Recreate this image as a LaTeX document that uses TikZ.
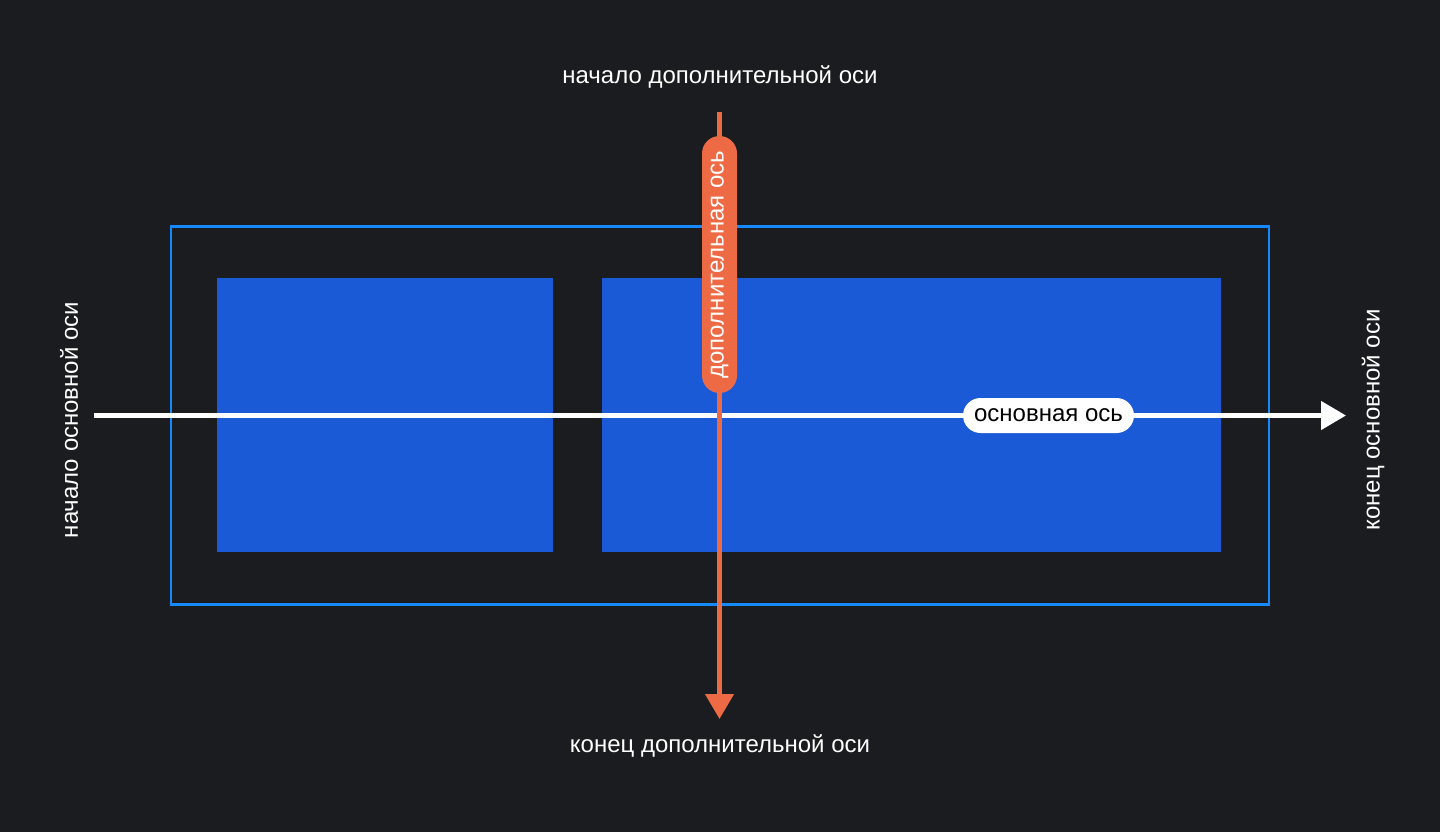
\documentclass[tikz,border=0pt]{standalone}
\usepackage{fontspec}
\setmainfont{Liberation Sans}
\usetikzlibrary{arrows.meta}
\definecolor{bgc}{HTML}{1B1C1F}
\definecolor{framec}{HTML}{1689FC}
\definecolor{itemc}{HTML}{1B5AD6}
\definecolor{orangec}{HTML}{EE6A45}
\tikzset{
  lbl/.style={text=white, font=\fontsize{24}{28}\selectfont, inner sep=0pt},
  itembox/.style={fill=itemc, draw=none},
  axisline/.style={line width=4.5pt, -{Triangle[length=25pt,width=28pt]}},
  pill/.style={rounded corners=17.5pt, minimum height=35pt, inner sep=0pt, font=\fontsize{24}{28}\selectfont},
}
\begin{document}
\begin{tikzpicture}[x=1pt,y=-1pt]
\fill[bgc] (0,0) rectangle (1440,832);
\useasboundingbox (0,0) rectangle (1440,832);
% items
\node[itembox, minimum width=336pt, minimum height=274pt, inner sep=0pt] (item1) at (385,415) {};
\node[itembox, minimum width=619pt, minimum height=274pt, inner sep=0pt] (item2) at (911.5,415) {};
% container
\node[draw=framec, line width=2.5pt, minimum width=1098pt, minimum height=378pt, inner sep=0pt] (cont) at (720,415.25) {};
% main axis
\coordinate (mstart) at (94,415.5);
\coordinate (mend) at (1346,415.5);
\draw[white, axisline] (mstart) -- (mend);
\node[pill, fill=white, text=black, minimum width=171pt] (mainlbl) at (1048.5,415.5) {основная ось};
% cross axis
\coordinate (cstart) at (719.5,112);
\coordinate (cend) at (719.5,719);
\draw[orangec, axisline] (cstart) -- (cend);
\node[pill, fill=orangec, text=white, minimum width=257pt, rotate=90] (crosslbl) at (719.5,264.5) {дополнительная ось};
% end labels
\node[lbl] (cstartlbl) at (720,77) {начало дополнительной оси};
\node[lbl] (cendlbl) at (720,746) {конец дополнительной оси};
\node[lbl, rotate=90] (mstartlbl) at (69,420) {начало основной оси};
\node[lbl, rotate=90] (mendlbl) at (1373,420) {конец основной оси};
\end{tikzpicture}
\end{document}
